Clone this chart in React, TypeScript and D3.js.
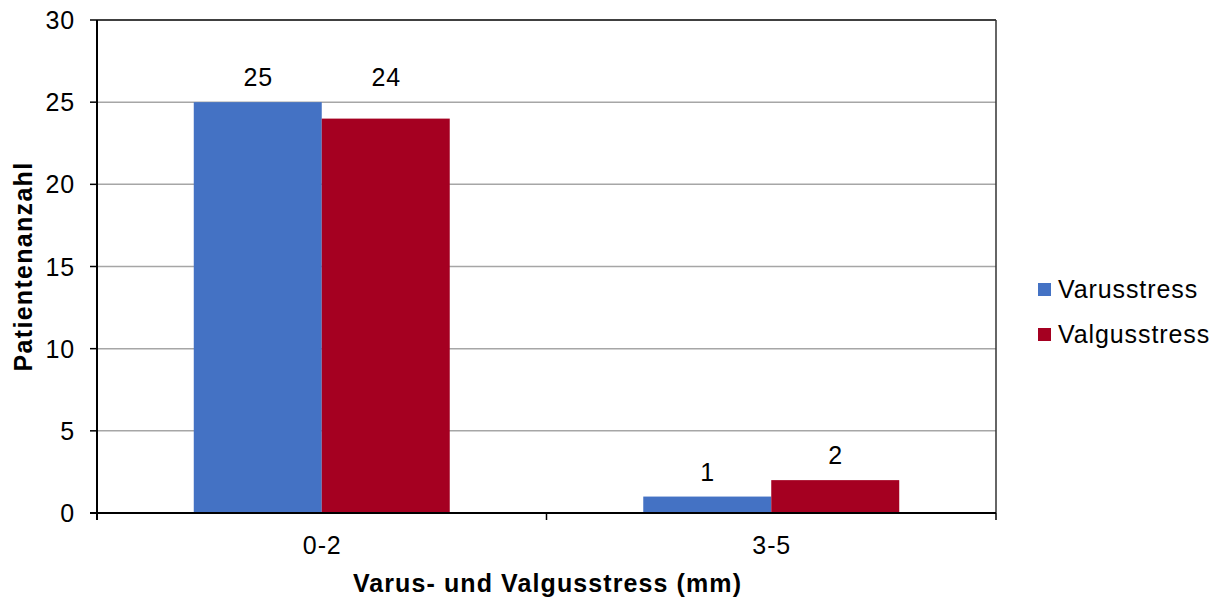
import React from "react";
import * as d3 from "d3";

const categories = ["0-2", "3-5"];
const seriesNames = ["Varusstress", "Valgusstress"];
const varusValues = [25, 1];
const valgusValues = [24, 2];
const yTicks = [0, 5, 10, 15, 20, 25, 30];
const colors = ["#4472C4", "#A50021"];
const alignLabelsInCategory = ["0-2"];

const W = 1222;
const H = 598;
const M = { left: 97, right: 996, top: 20, bottom: 513 };
const FONT = "Liberation Sans, Arial, sans-serif";
const FS = 25;
const LS = 0.9;

export default function App() {
  const series = [varusValues, valgusValues];
  const x = d3.scaleBand<string>().domain(categories).range([M.left, M.right]).paddingInner(0).paddingOuter(0);
  const xs = d3.scaleBand<string>().domain(seriesNames).range([0, x.bandwidth()]).paddingInner(0).paddingOuter(0.756);
  const y = d3.scaleLinear().domain([0, 30]).range([M.bottom, M.top]);

  const xTickPos = [M.left, ...categories.map((c) => (x(c) as number) + x.bandwidth())];

  return (
    <svg width={W} height={H} style={{ position: "absolute", left: 0, top: 0, background: "#fff" }}>
      <rect x={0} y={0} width={W} height={H} fill="#fff" />
      {yTicks.filter((t) => t > 0 && t < 30).map((t) => (
        <line key={"g" + t} x1={M.left} x2={M.right} y1={y(t)} y2={y(t)} stroke="#A6A6A6" strokeWidth={1.5} />
      ))}
      {categories.map((c, ci) =>
        seriesNames.map((s, si) => {
          const v = series[si][ci];
          const bx = (x(c) as number) + (xs(s) as number);
          return (
            <rect key={c + s} x={bx} y={y(v)} width={xs.bandwidth()} height={y(0) - y(v)} fill={colors[si]} />
          );
        })
      )}
      {categories.map((c, ci) =>
        seriesNames.map((s, si) => {
          const v = series[si][ci];
          const groupMax = d3.max(series.map((arr) => arr[ci])) as number;
          const anchorV = alignLabelsInCategory.includes(c) ? groupMax : v;
          const bx = (x(c) as number) + (xs(s) as number) + xs.bandwidth() / 2;
          return (
            <text key={"l" + c + s} x={bx + 0.5} y={y(anchorV) - 16} textAnchor="middle" fontFamily={FONT} fontSize={FS} letterSpacing={LS} fill="#000">
              {v}
            </text>
          );
        })
      )}
      <line x1={M.left} x2={M.right} y1={M.top} y2={M.top} stroke="#000" strokeWidth={1.5} />
      <line x1={M.right} x2={M.right} y1={M.top} y2={M.bottom} stroke="#333" strokeWidth={1.5} />
      <line x1={M.left} x2={M.left} y1={M.top} y2={M.bottom + 7} stroke="#000" strokeWidth={2} />
      {yTicks.map((t) => (
        <g key={"yt" + t}>
          <line x1={M.left - 7} x2={M.left} y1={y(t)} y2={y(t)} stroke="#000" strokeWidth={1.5} />
          <text x={75} y={y(t) + 9} textAnchor="end" fontFamily={FONT} fontSize={FS} letterSpacing={LS} fill="#000">
            {t}
          </text>
        </g>
      ))}
      <line x1={M.left - 7} x2={M.right} y1={M.bottom} y2={M.bottom} stroke="#000" strokeWidth={2} />
      {xTickPos.map((p, i) => (
        <line key={"xt" + i} x1={p} x2={p} y1={M.bottom} y2={M.bottom + 7} stroke="#000" strokeWidth={1.5} />
      ))}
      {categories.map((c) => (
        <text key={"xl" + c} x={(x(c) as number) + x.bandwidth() / 2 + 0.5} y={554} textAnchor="middle" fontFamily={FONT} fontSize={FS} letterSpacing={LS} fill="#000">
          {c}
        </text>
      ))}
      <text x={(M.left + M.right) / 2 + 1} y={592} textAnchor="middle" fontFamily={FONT} fontSize={25} fontWeight="bold" letterSpacing={1.1} fill="#000">
        Varus- und Valgusstress (mm)
      </text>
      <text transform={`translate(32, ${(M.top + M.bottom) / 2}) rotate(-90)`} textAnchor="middle" fontFamily={FONT} fontSize={25} fontWeight="bold" letterSpacing={1.3} fill="#000">
        Patientenanzahl
      </text>
      {seriesNames.map((s, i) => (
        <g key={"lg" + s}>
          <rect x={1038} y={283 + i * 45} width={13} height={13} fill={colors[i]} />
          <text x={1058} y={298 + i * 45} fontFamily={FONT} fontSize={FS} letterSpacing={LS} fill="#000">
            {s}
          </text>
        </g>
      ))}
    </svg>
  );
}
